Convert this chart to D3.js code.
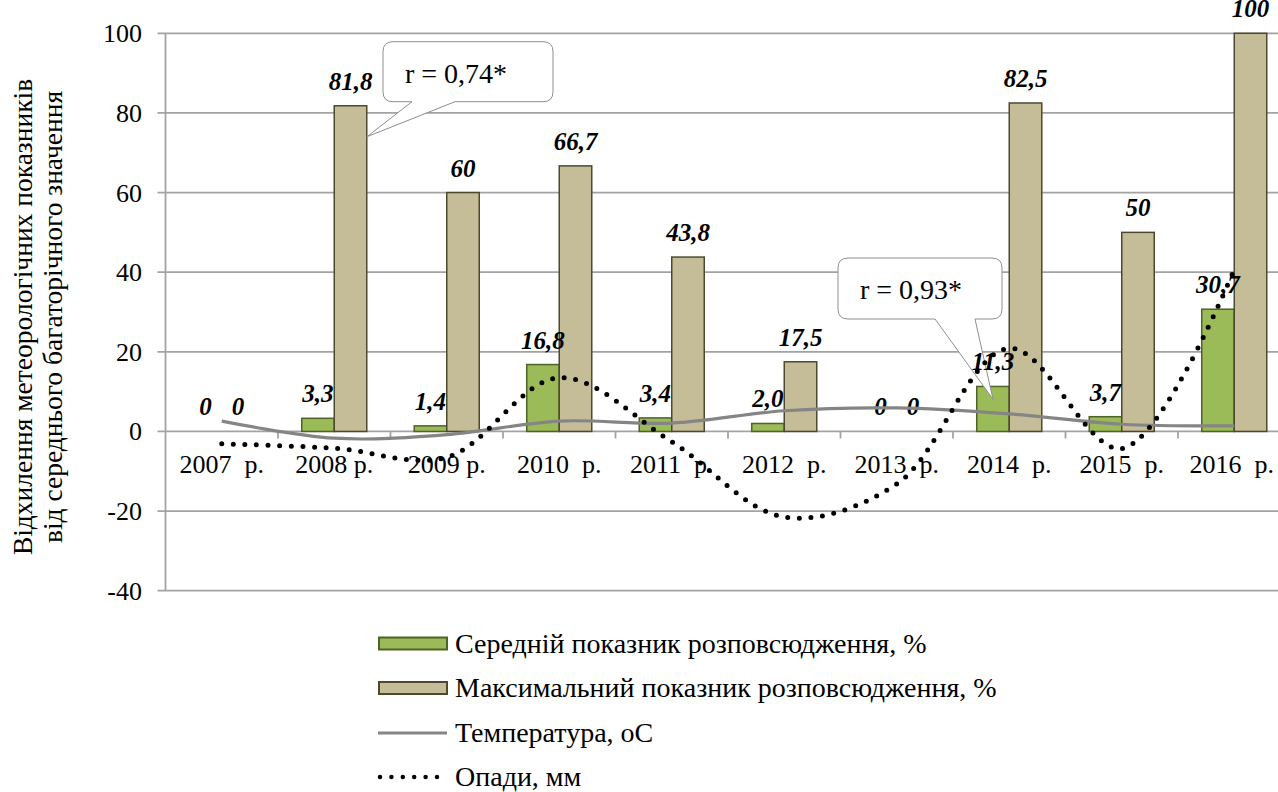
<!DOCTYPE html>
<html><head><meta charset="utf-8">
<script src="https://cdn.jsdelivr.net/npm/d3@7"></script>
<style>
body{margin:0;background:#fff;}
svg{display:block;}
svg text{font-family:"Liberation Serif","Times New Roman",serif;white-space:pre;}
</style></head>
<body><svg id="c" width="1278" height="792"></svg>
<script>
const categories = ['2007  р.','2008 р.','2009 р.','2010  р.','2011  р.','2012  р.','2013  р.','2014  р.','2015  р.','2016  р.'];
const avgValues = [0, 3.3, 1.4, 16.8, 3.4, 2.0, 0, 11.3, 3.7, 30.7];
const avgLabels = ['0','3,3','1,4','16,8','3,4','2,0','0','11,3','3,7','30,7'];
const maxValues = [0, 81.8, 60, 66.7, 43.8, 17.5, 0, 82.5, 50, 100];
const maxLabels = ['0','81,8','60','66,7','43,8','17,5','0','82,5','50','100'];
const tempValues = [2.6, -1.7, -0.8, 2.6, 2.1, 5.2, 5.9, 4.4, 1.8, 1.4];
const precipValues = [-3.1, -4.2, -6.5, 13.5, -2.6, -21.5, -13.2, 20.9, -4.3, 40.7];
const yTicks = [-40, -20, 0, 20, 40, 60, 80, 100];
const seriesNames = ['Середній показник розповсюдження, %','Максимальний показник розповсюдження, %','Температура, оС','Опади, мм'];
const yTitle = ['Відхилення метеорологічних показників','від середнього багаторічного значення'];
const callouts = [{text:'r = 0,74*', cat:1, series:'max', value:74}, {text:'r = 0,93*', cat:7, series:'avg', value:8.1}];

const FONT = 'Liberation Serif, Times New Roman, serif';
const svg = d3.select('#c');
const X0 = 165.5, X1 = 1290.5;
const x = d3.scaleBand().domain(categories).range([X0, X1]).padding(0);
const xs = d3.scaleBand().domain(['avg','max']).range([0, x.bandwidth()]).paddingOuter(0.73).paddingInner(0);
const y = d3.scaleLinear().domain([-40, 100]).range([590.7, 33.3]);

const green = '#9bbb59', greenS = '#4f6228', tan = '#c4bd97', tanS = '#4d4930';
const grid = '#a3a3a3';

svg.append('g').selectAll('line').data(yTicks).join('line')
  .attr('x1', X0 - 8).attr('x2', 1278).attr('y1', d => y(d)).attr('y2', d => y(d))
  .attr('stroke', grid).attr('stroke-width', 1.8);
svg.append('line').attr('x1', X0).attr('x2', X0).attr('y1', y(100)).attr('y2', y(-40)).attr('stroke', grid).attr('stroke-width', 1.8);
svg.append('g').selectAll('text').data(yTicks).join('text')
  .attr('x', 142).attr('y', d => y(d) + 9).attr('text-anchor', 'end').attr('font-family', FONT)
  .attr('font-size', 26).attr('fill', '#000').text(d => d);
const bounds = categories.map((c) => x(c)).concat([X1]);
svg.append('g').selectAll('line').data(bounds.slice(1)).join('line')
  .attr('x1', d => d).attr('x2', d => d).attr('y1', y(0)).attr('y2', y(0) + 7)
  .attr('stroke', grid).attr('stroke-width', 1.8);

const gBars = svg.append('g');
categories.forEach((c, i) => {
  [['avg', avgValues[i], green, greenS], ['max', maxValues[i], tan, tanS]].forEach(([k, v, f, s]) => {
    if (v === 0) return;
    gBars.append('rect').attr('x', x(c) + xs(k)).attr('width', xs.bandwidth())
      .attr('y', y(v)).attr('height', y(0) - y(v))
      .attr('fill', f).attr('stroke', s).attr('stroke-width', 1.5);
  });
});

const boxes = [{x0: 383, y0: 41.7, x1: 553, y1: 101.7, b1: 412, b2: 455, tx: 405, ty: 82.7},
               {x0: 838, y0: 258, x1: 1002, y1: 319, b1: 935, b2: 975, tx: 860, ty: 299}];
callouts.forEach((co, k) => {
  const b = boxes[k], r = 10;
  const px = co.series === 'max' ? x(categories[co.cat]) + xs('max') + xs.bandwidth() : x(categories[co.cat]) + xs('avg') + xs.bandwidth() / 2;
  const py = y(co.value);
  const p = `M${b.x0 + r},${b.y0} H${b.x1 - r} Q${b.x1},${b.y0} ${b.x1},${b.y0 + r} V${b.y1 - r} Q${b.x1},${b.y1} ${b.x1 - r},${b.y1} H${b.b2} L${px},${py} L${b.b1},${b.y1} H${b.x0 + r} Q${b.x0},${b.y1} ${b.x0},${b.y1 - r} V${b.y0 + r} Q${b.x0},${b.y0} ${b.x0 + r},${b.y0} Z`;
  svg.append('path').attr('d', p).attr('fill', '#fff').attr('stroke', '#8f8f8f').attr('stroke-width', 1);
  svg.append('text').attr('x', b.tx).attr('y', b.ty).attr('font-family', FONT).attr('font-size', 28).text(co.text);
});

const catG = svg.append('g');
categories.forEach((c, i) => {
  const t = catG.append('text').attr('font-family', FONT).attr('font-size', 26).attr('fill', '#000').attr('y', 473)
    .attr('text-anchor', 'middle').text(c);
  let cx = x(c) + x.bandwidth() / 2;
  const w = t.node().getComputedTextLength();
  if (cx + w / 2 > 1274) cx = 1274 - w / 2;
  t.attr('x', cx);
});

const labG = svg.append('g').attr('font-family', FONT).attr('font-size', 25).attr('font-weight', 'bold').attr('font-style', 'italic').attr('text-anchor', 'middle');
categories.forEach((c, i) => {
  labG.append('text').attr('x', x(c) + xs('avg') + xs.bandwidth() / 2).attr('y', y(Math.max(0, avgValues[i])) - 16).text(avgLabels[i]);
  labG.append('text').attr('x', x(c) + xs('max') + xs.bandwidth() / 2).attr('y', y(Math.max(0, maxValues[i])) - 16).text(maxLabels[i]);
});

const cx = c => x(c) + x.bandwidth() / 2;
const line = d3.line().curve(d3.curveCatmullRom.alpha(0.5));
svg.append('path').attr('d', line(categories.map((c, i) => [cx(c), y(tempValues[i])])))
  .attr('fill', 'none').attr('stroke', '#858585').attr('stroke-width', 3.2);
svg.append('path').attr('d', line(categories.map((c, i) => [cx(c), y(precipValues[i])])))
  .attr('fill', 'none').attr('stroke', '#000').attr('stroke-width', 5)
  .attr('stroke-linecap', 'round').attr('stroke-dasharray', '0 11.6');

const tg = svg.append('g').attr('font-family', FONT).attr('font-size', 27.5).attr('text-anchor', 'middle');
yTitle.forEach((t, i) => {
  tg.append('text').attr('transform', `translate(${32 + i * 30},317) rotate(-90)`).text(t);
});

const lg = svg.append('g');
const ly = [643.5, 688, 733, 777];
seriesNames.forEach((n, i) => {
  const yy = ly[i];
  if (i < 2) {
    lg.append('rect').attr('x', 379).attr('y', yy - 6).attr('width', 68).attr('height', 12)
      .attr('fill', i === 0 ? green : tan).attr('stroke', i === 0 ? greenS : tanS).attr('stroke-width', 2);
  } else if (i === 2) {
    lg.append('line').attr('x1', 378).attr('x2', 447).attr('y1', yy).attr('y2', yy).attr('stroke', '#858585').attr('stroke-width', 3.2);
  } else {
    lg.append('line').attr('x1', 380).attr('x2', 438).attr('y1', yy).attr('y2', yy).attr('stroke', '#000').attr('stroke-width', 4.5)
      .attr('stroke-linecap', 'round').attr('stroke-dasharray', '0 11.4');
  }
  lg.append('text').attr('x', 455).attr('y', yy + 9).attr('font-family', FONT).attr('font-size', 28).text(n);
});
</script></body></html>
